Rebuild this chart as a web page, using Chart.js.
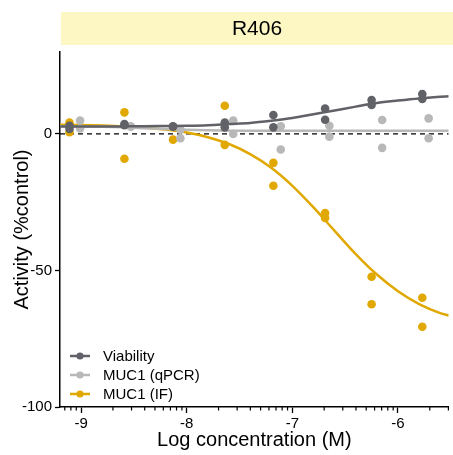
<!DOCTYPE html>
<html>
<head>
<meta charset="utf-8">
<script src="https://cdn.jsdelivr.net/npm/chart.js@4/dist/chart.umd.min.js"></script>
<style>
html, body { margin: 0; padding: 0; background: #fff; }
canvas { display: block; }
</style>
</head>
<body>
<canvas id="myChart" width="453" height="455"></canvas>
<script>
const TITULO = 'R406';
const series = ['Viability', 'MUC1 (qPCR)', 'MUC1 (IF)'];
const colores = ['#616168', '#b8b8b8', '#e0a800'];

// ticks de los ejes
const xMajor = [-9, -8, -7, -6];
const yTicks = [-100, -50, 0];

// puntos: dosis (log M) y dos replicados
const dosisViab = [-9.11, -8.59, -8.13, -7.64, -7.18, -6.69, -6.25, -5.77];
const viabRep1 = [3.0, 3.6, 2.8, 4.2, 6.9, 9.3, 12.4, 14.6];
const viabRep2 = [1.8, 3.2, 2.6, 2.4, 2.4, 5.2, 10.6, 12.8];

const dosisPcr = [-9.01, -8.53, -8.06, -7.56, -7.11, -6.65, -6.15, -5.71];
const pcrRep1 = [4.9, 2.8, 1.5, 4.9, 2.8, 3.0, 5.1, 5.7];
const pcrRep2 = [2.0, 2.6, -1.6, 0.0, -5.7, -1.0, -5.1, -1.6];

const dosisIf = [-9.11, -8.59, -8.13, -7.64, -7.18, -6.69, -6.25, -5.77];
const ifRep1 = [4.2, 7.9, -2.1, 10.3, -10.6, -29.0, -52.3, -60.0];
const ifRep2 = [0.6, -9.1, 2.6, -4.0, -19.0, -30.8, -62.4, -70.6];

// curvas de ajuste
const curvaX = [-9.2, -9.0, -8.8, -8.6, -8.4, -8.2, -8.0, -7.8, -7.6, -7.4, -7.2, -7.0, -6.8, -6.6, -6.4, -6.2, -6.0, -5.8, -5.6, -5.52];
const curvaViab = [2.7, 2.7, 2.7, 2.75, 2.8, 2.9, 3.0, 3.2, 3.6, 4.0, 4.8, 5.8, 7.2, 8.6, 10.0, 11.3, 12.2, 13.0, 13.6, 13.8];
const curvaPcr = [2.8, 2.7, 2.6, 2.4, 2.1, 1.8, 1.5, 1.3, 1.2, 1.2, 1.2, 1.2, 1.2, 1.2, 1.2, 1.2, 1.2, 1.2, 1.2, 1.2];
const curvaIf = [3.4, 3.3, 3.1, 2.8, 2.3, 1.6, 0.5, -1.2, -3.7, -7.4, -12.4, -19.0, -26.9, -35.5, -44.0, -51.5, -57.6, -62.3, -65.6, -66.5];

Chart.defaults.font.family = '"Liberation Sans", Arial, sans-serif';
Chart.defaults.color = '#000';

function puntos(dosis, r1, r2) {
  let out = [];
  for (let i = 0; i < dosis.length; i++) {
    out.push({x: dosis[i], y: r1[i]});
    out.push({x: dosis[i], y: r2[i]});
  }
  return out;
}

function curva(ys) {
  return curvaX.map((x, i) => ({x: x, y: ys[i]}));
}

function setPuntos(i, data) {
  return {
    type: 'scatter', label: series[i], data: data,
    backgroundColor: colores[i], borderWidth: 0, pointRadius: 4.3
  };
}

function setCurva(i, ys) {
  return {
    type: 'line', data: curva(ys), borderColor: colores[i], borderWidth: 2.5,
    pointRadius: 0, cubicInterpolationMode: 'monotone', fill: false
  };
}

// banda amarilla del titulo
const bandaTitulo = {
  id: 'bandaTitulo',
  beforeDraw(chart) {
    const ctx = chart.ctx;
    const left = chart.chartArea.left + 1;
    ctx.save();
    ctx.fillStyle = '#fdf8c3';
    ctx.fillRect(left, 12, chart.width - left, 33);
    ctx.fillStyle = '#000';
    ctx.font = '21px "Liberation Sans", Arial, sans-serif';
    ctx.textAlign = 'center';
    ctx.textBaseline = 'middle';
    ctx.fillText(TITULO, (left + chart.width) / 2, 29);
    ctx.restore();
  }
};

// ticks menores logaritmicos del eje x
const ticksMenores = {
  id: 'ticksMenores',
  afterDraw(chart) {
    const sx = chart.scales.x;
    const ctx = chart.ctx;
    const y0 = chart.chartArea.bottom;
    ctx.save();
    ctx.strokeStyle = '#000';
    ctx.lineWidth = 1.2;
    for (let d = -10; d <= -6; d++) {
      for (let k = 2; k <= 9; k++) {
        const v = d + Math.log10(k);
        if (v < sx.min || v > sx.max) continue;
        const px = sx.getPixelForValue(v);
        ctx.beginPath();
        ctx.moveTo(px, y0);
        ctx.lineTo(px, y0 + 3.5);
        ctx.stroke();
      }
    }
    ctx.restore();
  }
};

// leyenda dentro del area
const leyenda = {
  id: 'leyenda',
  afterDraw(chart) {
    const ctx = chart.ctx;
    const x0 = chart.chartArea.left + 10;
    let y = chart.chartArea.bottom - 51;
    ctx.save();
    ctx.font = '15px "Liberation Sans", Arial, sans-serif';
    ctx.textBaseline = 'middle';
    for (let i = 0; i < series.length; i++) {
      ctx.strokeStyle = colores[i];
      ctx.fillStyle = colores[i];
      ctx.lineWidth = 2.5;
      ctx.beginPath();
      ctx.moveTo(x0, y);
      ctx.lineTo(x0 + 20, y);
      ctx.stroke();
      ctx.beginPath();
      ctx.arc(x0 + 10, y, 3.6, 0, Math.PI * 2);
      ctx.fill();
      ctx.fillStyle = '#000';
      ctx.fillText(series[i], x0 + 33, y + 1);
      y += 19;
    }
    ctx.restore();
  }
};

const ctx = document.querySelector('#myChart').getContext('2d');

const myChart = new Chart(ctx, {
  type: 'scatter',
  data: {
    datasets: [
      setPuntos(0, puntos(dosisViab, viabRep1, viabRep2)),
      setCurva(0, curvaViab),
      setPuntos(1, puntos(dosisPcr, pcrRep1, pcrRep2)),
      setCurva(1, curvaPcr),
      setPuntos(2, puntos(dosisIf, ifRep1, ifRep2)),
      setCurva(2, curvaIf),
      {
        type: 'line', data: [{x: -9.2, y: 0}, {x: -5.52, y: 0}],
        borderColor: '#000', borderWidth: 1.3, borderDash: [5, 4], pointRadius: 0
      }
    ]
  },
  options: {
    responsive: false,
    animation: false,
    events: [],
    layout: { padding: { top: 52, left: 0, right: 0, bottom: 0 } },
    plugins: { legend: { display: false }, tooltip: { enabled: false } },
    scales: {
      x: {
        type: 'linear', min: -9.2, max: -5.52,
        afterBuildTicks: s => { s.ticks = xMajor.map(v => ({value: v})); },
        afterFit: s => { s.height = 48; },
        ticks: { autoSkip: false, maxRotation: 0, padding: 2, font: { size: 15 }, callback: v => String(v) },
        grid: { drawOnChartArea: false, tickLength: 6, tickColor: '#000', tickWidth: 1.3 },
        border: { color: '#000', width: 1.5 },
        title: { display: true, text: 'Log concentration (M)', font: { size: 20 }, padding: { top: 0, bottom: 3 } }
      },
      y: {
        type: 'linear', min: -100, max: 30,
        afterBuildTicks: s => { s.ticks = yTicks.map(v => ({value: v})); },
        afterFit: s => { s.width = 60; },
        ticks: { autoSkip: false, padding: 3, font: { size: 15 }, callback: v => String(v) },
        grid: { drawOnChartArea: false, tickLength: 5, tickColor: '#000', tickWidth: 1.3 },
        border: { color: '#000', width: 1.5 },
        title: { display: true, text: 'Activity (%control)', font: { size: 20 }, padding: { top: 10, bottom: 0 } }
      }
    }
  },
  plugins: [bandaTitulo, ticksMenores, leyenda]
});
</script>
</body>
</html>
